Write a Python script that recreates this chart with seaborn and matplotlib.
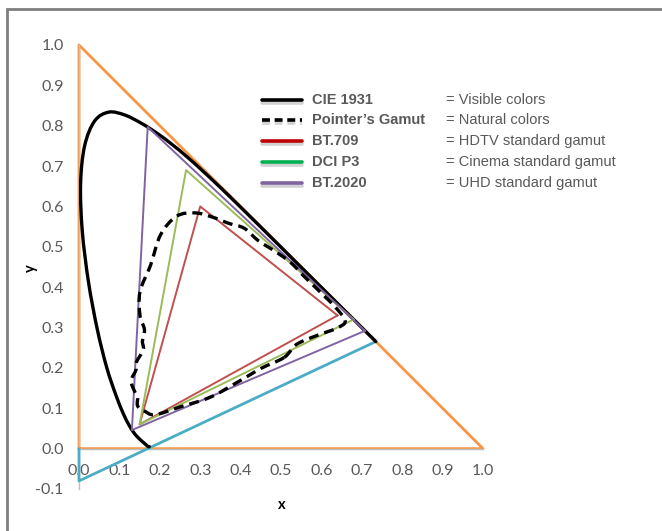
import numpy as np
import pandas as pd
import matplotlib.pyplot as plt
import matplotlib.patheffects as pe
from matplotlib.lines import Line2D
from matplotlib.patches import Rectangle, PathPatch
from matplotlib.path import Path
import seaborn as sns

# ── Data ─────────────────────────────────────────────────
# CIE 1931 spectral locus (380 nm .. 700 nm)
locus_x = [0.1741, 0.1740, 0.1738, 0.1736, 0.1733, 0.1730, 0.1726, 0.1721, 0.1714,
           0.1703, 0.1689, 0.1669, 0.1644, 0.1611, 0.1566, 0.1510, 0.1440, 0.1355,
           0.1241, 0.1096, 0.0913, 0.0687, 0.0454, 0.0235, 0.0082, 0.0039, 0.0139,
           0.0389, 0.0743, 0.1142, 0.1547, 0.1929, 0.2296, 0.2658, 0.3016, 0.3373,
           0.3731, 0.4087, 0.4441, 0.4788, 0.5125, 0.5448, 0.5752, 0.6029, 0.6270,
           0.6482, 0.6658, 0.6801, 0.6915, 0.7006, 0.7079, 0.7140, 0.7190, 0.7230,
           0.7260, 0.7283, 0.7300, 0.7311, 0.7320, 0.7347]
locus_y = [0.0050, 0.0050, 0.0049, 0.0049, 0.0048, 0.0048, 0.0048, 0.0048, 0.0051,
           0.0058, 0.0069, 0.0086, 0.0109, 0.0138, 0.0177, 0.0227, 0.0297, 0.0399,
           0.0578, 0.0868, 0.1327, 0.2007, 0.2950, 0.4127, 0.5384, 0.6548, 0.7502,
           0.8120, 0.8338, 0.8262, 0.8059, 0.7816, 0.7543, 0.7243, 0.6923, 0.6589,
           0.6245, 0.5896, 0.5547, 0.5202, 0.4866, 0.4544, 0.4242, 0.3965, 0.3725,
           0.3514, 0.3340, 0.3197, 0.3083, 0.2993, 0.2920, 0.2859, 0.2809, 0.2770,
           0.2740, 0.2717, 0.2700, 0.2689, 0.2680, 0.2653]

# Pointer's gamut boundary (closed)
pointer_x = [0.508, 0.538, 0.588, 0.637, 0.659, 0.634, 0.594, 0.557, 0.523, 0.482,
             0.444, 0.409, 0.371, 0.332, 0.288, 0.242, 0.202, 0.177, 0.151, 0.151,
             0.162, 0.157, 0.159, 0.142, 0.141, 0.129, 0.138, 0.145, 0.145, 0.161,
             0.188, 0.252, 0.324, 0.393, 0.451]
pointer_y = [0.226, 0.258, 0.280, 0.298, 0.316, 0.351, 0.391, 0.427, 0.462, 0.491,
             0.515, 0.546, 0.558, 0.573, 0.584, 0.576, 0.530, 0.454, 0.389, 0.330,
             0.295, 0.266, 0.245, 0.214, 0.195, 0.168, 0.141, 0.129, 0.106, 0.094,
             0.084, 0.104, 0.127, 0.165, 0.199]

# standard gamut triangles (R, G, B, back to R)
bt709_x = [0.640, 0.300, 0.150, 0.640]
bt709_y = [0.330, 0.600, 0.060, 0.330]
p3_x = [0.680, 0.265, 0.150, 0.680]
p3_y = [0.320, 0.690, 0.060, 0.320]
bt2020_x = [0.708, 0.170, 0.131, 0.708]
bt2020_y = [0.292, 0.797, 0.046, 0.292]

# xy plane boundary triangle and the blue-red edge line
plane_x = [0.0, 1.0, 0.0, 0.0]
plane_y = [0.0, 0.0, 1.0, 0.0]
edge_x = [0.0, 0.0, 0.7347]
edge_y = [0.0, -0.08, 0.2653]

legend_names = ['CIE 1931', 'Pointer\u2019s Gamut', 'BT.709', 'DCI P3', 'BT.2020']
legend_desc = ['= Visible colors', '= Natural colors', '= HDTV standard gamut',
               '= Cinema standard gamut', '= UHD standard gamut']
legend_colors = ['black', 'black', '#C00000', '#00B050', '#8064A2']
legend_styles = ['-', '--', '-', '-', '-']

ticks = [round(v, 1) for v in np.arange(0, 1.01, 0.1)]
yticks = [round(v, 1) for v in np.arange(-0.1, 1.01, 0.1)]

# ── Style ────────────────────────────────────────────────
sns.set_style('white')
plt.rcParams['font.family'] = ['Lato', 'DejaVu Sans']

fig = plt.figure(figsize=(6.62, 5.31), dpi=100)
ax = fig.add_axes([79 / 662, 1 - 489 / 531, 404 / 662, 444 / 531])


def draw(xs, ys, color, lw, z=2):
    df = pd.DataFrame({'x': xs, 'y': ys})
    sns.lineplot(data=df, x='x', y='y', sort=False, estimator=None, color=color,
                 linewidth=lw, ax=ax, zorder=z, clip_on=False)


def smooth_path(xs, ys, closed=False):
    # Excel-like "smoothed line": Catmull-Rom segments as cubic Beziers
    p = np.column_stack([xs, ys])
    n = len(p)
    if closed:
        get = lambda i: p[i % n]
        segs = n
    else:
        get = lambda i: p[min(max(i, 0), n - 1)]
        segs = n - 1
    verts = [p[0]]
    codes = [Path.MOVETO]
    for i in range(segs):
        p0, p1, p2, p3 = get(i - 1), get(i), get(i + 1), get(i + 2)
        verts += [p1 + (p2 - p0) / 6, p2 - (p3 - p1) / 6, p2]
        codes += [Path.CURVE4] * 3
    return Path(verts, codes)


draw(plane_x, plane_y, '#F79646', 2.0, z=2)
draw(edge_x, edge_y, '#4BACC6', 2.0, z=3)
ax.add_patch(PathPatch(smooth_path(locus_x, locus_y), fill=False, edgecolor='black',
                       linewidth=2.4, zorder=4, capstyle='round'))
draw(bt709_x, bt709_y, '#C0504D', 1.4, z=5)
draw(p3_x, p3_y, '#9BBB59', 1.4, z=5)
draw(bt2020_x, bt2020_y, '#8064A2', 1.4, z=5)
ax.add_patch(PathPatch(smooth_path(pointer_x, pointer_y, closed=True), fill=False,
                       edgecolor='black', linewidth=2.4, linestyle=(0, (3, 1.8)),
                       zorder=6))

ax.set_xlim(0, 1.0)
ax.set_ylim(-0.1, 1.0)
ax.set_xticks(ticks)
ax.set_yticks(yticks)
ax.set_xticklabels([f'{t:.1f}' for t in ticks])
ax.set_yticklabels([f'{t:.1f}' for t in yticks])
ax.spines['bottom'].set_position(('data', 0))
ax.spines['left'].set_position(('data', 0))
for s in ['top', 'right']:
    ax.spines[s].set_visible(False)
for s in ['bottom', 'left']:
    ax.spines[s].set_color('#BFBFBF')
    ax.spines[s].set_linewidth(1.0)
ax.tick_params(axis='both', direction='out', length=4, width=1, color='#BFBFBF',
               labelcolor='#595959', labelsize=11.5)
ax.tick_params(axis='x', pad=7)
ax.tick_params(axis='y', pad=7)
ax.set_facecolor('none')

ax.set_xlabel('x', fontsize=10.5, fontweight='bold', color='black')
ax.set_ylabel('y', fontsize=10.5, fontweight='bold', color='black')
ax.xaxis.set_label_coords((282 - 79) / 404, (489 - 498) / 444)
ax.yaxis.set_label_coords((38 - 79) / 404, (489 - 268) / 444)

# ── Legend ───────────────────────────────────────────────
row_y = [100, 120, 141, 162, 183]
for name, desc, col, ls, py in zip(legend_names, legend_desc, legend_colors,
                                   legend_styles, row_y):
    fy = 1 - py / 531
    ln = Line2D([262 / 662, 302 / 662], [fy, fy], transform=fig.transFigure,
                color=col, linewidth=2.6, linestyle=ls,
                path_effects=[pe.SimpleLineShadow(offset=(0, -2), shadow_color='gray',
                                                  alpha=0.35), pe.Normal()])
    if ls == '--':
        ln.set_dashes([2.2, 1.3])
    fig.add_artist(ln)
    fig.text(312 / 662, fy, name, fontsize=10.5, fontweight='bold', color='#595959',
             va='center', ha='left', family=['Liberation Sans', 'DejaVu Sans'])
    fig.text(446 / 662, fy, desc, fontsize=10.5, color='#595959',
             va='center', ha='left', family=['Liberation Sans', 'DejaVu Sans'])

# grey frame on the top and left edge
fig.add_artist(Rectangle((7 / 662, -0.05), 1.2, 1 - 9 / 531 + 0.05,
                         transform=fig.transFigure, fill=False,
                         edgecolor='#7F7F7F', linewidth=2))

fig.savefig('out.png', dpi=100)
